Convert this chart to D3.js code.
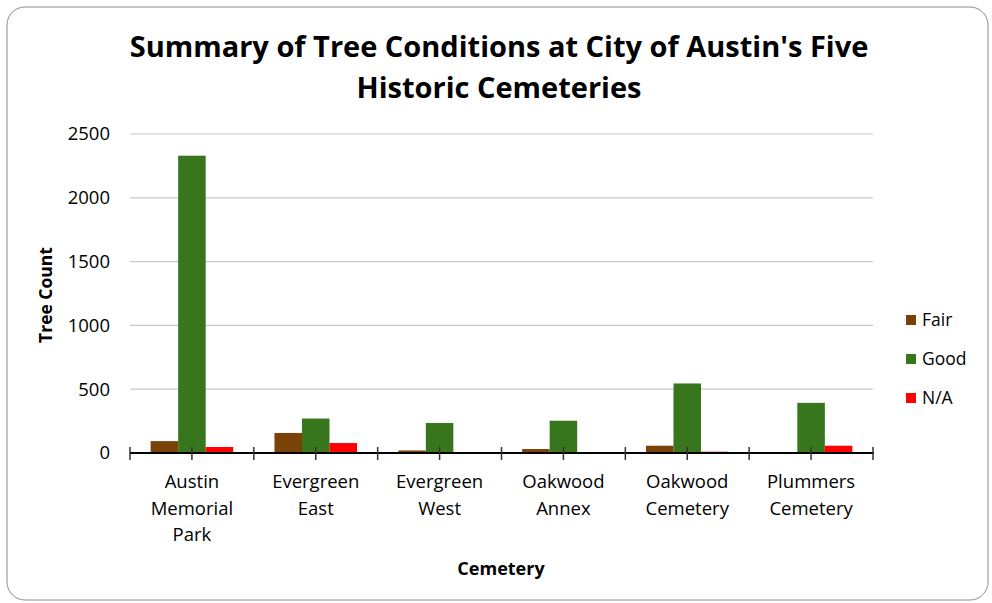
<!DOCTYPE html>
<html><head><meta charset="utf-8">
<script src="https://cdn.jsdelivr.net/npm/d3@7"></script>
<style>body{margin:0;background:#fff}svg{display:block}text{font-family:"Open Sans",sans-serif}</style>
</head><body>
<svg id="c" width="992" height="603"></svg>
<script>
const categories = [["Austin","Memorial","Park"],["Evergreen","East"],["Evergreen","West"],["Oakwood","Annex"],["Oakwood","Cemetery"],["Plummers","Cemetery"]];
const seriesNames = ["Fair","Good","N/A"];
const seriesColors = ["#7a4207","#38761d","#ff0000"];
const fair = [93, 157, 20, 31, 57, 0];
const good = [2330, 270, 235, 253, 545, 393];
const na = [47, 78, 0, 0, 10, 57];
const yTicks = [0, 500, 1000, 1500, 2000, 2500];
const values = [fair, good, na];

const svg = d3.select("#c");
svg.append("rect").attr("x",7).attr("y",7).attr("width",981).attr("height",593).attr("rx",18)
  .attr("fill","#fff").attr("stroke","#8c8c8c").attr("stroke-width",1);

const pL = 130, pR = 873, pT = 134, pB = 453;
const x = d3.scaleBand().domain(d3.range(categories.length)).range([pL,pR]);
const xi = d3.scaleBand().domain(d3.range(seriesNames.length)).range([0, x.bandwidth()]).paddingOuter(0.75).paddingInner(0);
const y = d3.scaleLinear().domain([0,2500]).range([pB, pT]);

// gridlines
svg.append("g").selectAll("line").data(yTicks.filter(d=>d>0)).join("line")
  .attr("x1",pL).attr("x2",pR).attr("y1",d=>y(d)).attr("y2",d=>y(d))
  .attr("stroke","#c8c8c8").attr("stroke-width",1.2);

// y labels
svg.append("g").selectAll("text").data(yTicks).join("text")
  .attr("x",110).attr("y",d=>y(d)).attr("dy","0.35em").attr("text-anchor","end")
  .attr("font-size",18.5).attr("fill","#000").text(d=>d);

// bars
const groups = svg.append("g").selectAll("g").data(categories).join("g")
  .attr("transform",(d,i)=>`translate(${x(i)},0)`);
groups.selectAll("rect").data((d,i)=>values.map((s,k)=>({k,v:s[i]}))).join("rect")
  .attr("x",d=>xi(d.k)).attr("width",xi.bandwidth())
  .attr("y",d=>y(d.v)).attr("height",d=>pB-y(d.v))
  .attr("fill",d=>seriesColors[d.k]);

// x axis line
svg.append("line").attr("x1",pL).attr("x2",pR+1).attr("y1",pB).attr("y2",pB)
  .attr("stroke","#000").attr("stroke-width",2);
// ticks at boundaries and centers
const tickPos = [];
for (let i=0;i<=categories.length;i++){ tickPos.push(pL + i*x.step()); if(i<categories.length) tickPos.push(x(i)+x.bandwidth()/2); }
svg.append("g").selectAll("line").data(tickPos).join("line")
  .attr("x1",d=>d).attr("x2",d=>d).attr("y1",pB-6).attr("y2",pB+7)
  .attr("stroke","#333").attr("stroke-width",1.5);

// category labels
groups.append("text").attr("x",x.bandwidth()/2).attr("text-anchor","middle")
  .attr("font-size",18.5).attr("fill","#000")
  .selectAll("tspan").data(d=>d).join("tspan")
  .attr("x",x.bandwidth()/2).attr("y",(d,j)=>488+j*26.5).text(d=>d);

// titles
const title = svg.append("text").attr("text-anchor","middle").attr("font-weight","bold").attr("font-size",29).attr("fill","#000");
title.append("tspan").attr("x",499).attr("y",57).text("Summary of Tree Conditions at City of Austin's Five");
title.append("tspan").attr("x",499).attr("y",98).text("Historic Cemeteries");

svg.append("text").attr("x",501).attr("y",575).attr("text-anchor","middle").attr("font-weight","bold")
  .attr("font-size",18).text("Cemetery");
svg.append("text").attr("transform","translate(52,295) rotate(-90)").attr("text-anchor","middle")
  .attr("font-weight","bold").attr("font-size",17.5).text("Tree Count");

// legend
const lg = svg.append("g").selectAll("g").data(seriesNames).join("g")
  .attr("transform",(d,i)=>`translate(906,${320+i*39})`);
lg.append("rect").attr("x",0).attr("y",-5).attr("width",10).attr("height",10).attr("fill",(d,i)=>seriesColors[i]);
lg.append("text").attr("x",16).attr("dy","0.35em").attr("font-size",17.5).text(d=>d);
</script>
</body></html>
